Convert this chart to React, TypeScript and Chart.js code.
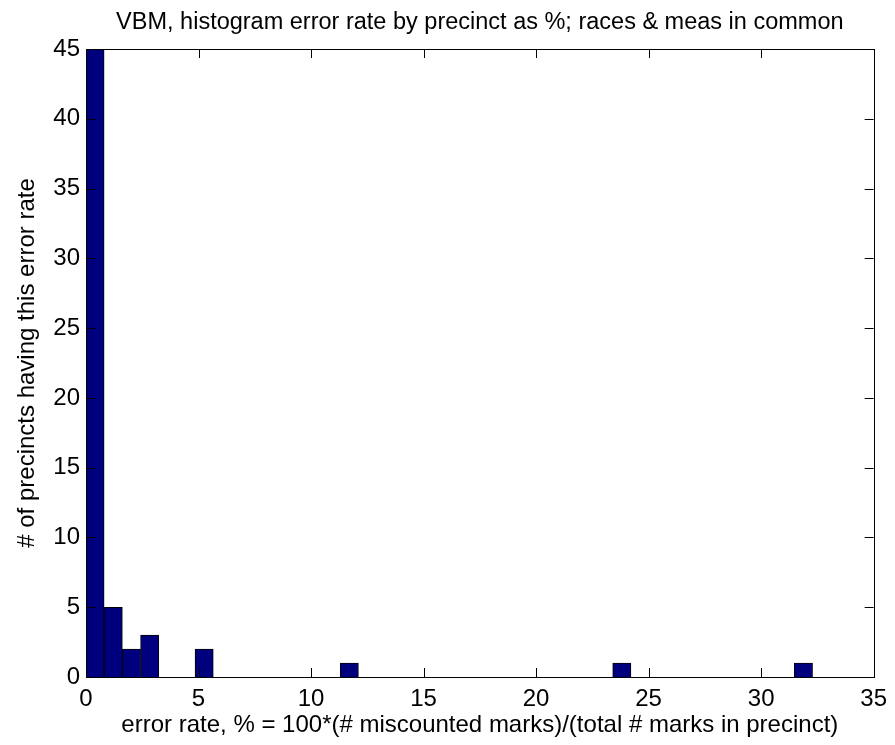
import React, { useEffect, useRef } from "react";
import { Chart, registerables } from "chart.js";

Chart.register(...registerables);

// Histogram bins (non-empty bins only): centre of each bin (% error rate) and count of precincts
const binCenters = [0.4, 1.21, 2.02, 2.83, 5.25, 11.7, 23.81, 31.88];
const counts = [45, 5, 2, 3, 2, 1, 1, 1];

const titleText = "VBM, histogram error rate by precinct as %; races & meas in common";
const xLabel = "error rate, % = 100*(# miscounted marks)/(total # marks in precinct)";
const yLabel = "# of precincts having this error rate";

const FONT = "'Liberation Sans', Arial, sans-serif";

const framePlugin = {
  id: "matlabFrame",
  afterDatasetsDraw(chart: any) {
    const { ctx, chartArea } = chart;
    const { left, right, top, bottom } = chartArea;
    const tl = 9;
    ctx.save();
    ctx.strokeStyle = "#000";
    ctx.lineWidth = 1;
    ctx.beginPath();
    const xs = chart.scales.x;
    xs.ticks.forEach((t: any) => {
      const px = Math.round(xs.getPixelForValue(t.value)) + 0.5;
      ctx.moveTo(px, bottom);
      ctx.lineTo(px, bottom - tl);
      ctx.moveTo(px, top);
      ctx.lineTo(px, top + tl);
    });
    const ys = chart.scales.y;
    ys.ticks.forEach((t: any) => {
      const py = Math.round(ys.getPixelForValue(t.value)) + 0.5;
      ctx.moveTo(left, py);
      ctx.lineTo(left + tl, py);
      ctx.moveTo(right, py);
      ctx.lineTo(right - tl, py);
    });
    ctx.stroke();
    ctx.strokeRect(Math.round(left) + 0.5, Math.round(top) + 0.5, Math.round(right - left), Math.round(bottom - top));
    ctx.restore();
  },
};

export default function App() {
  const ref = useRef<HTMLCanvasElement>(null);
  useEffect(() => {
    if (!ref.current) return;
    const chart = new Chart(ref.current, {
      type: "bar",
      data: {
        datasets: [
          {
            data: binCenters.map((x, i) => ({ x, y: counts[i] })),
            backgroundColor: "#00007f",
            borderColor: "#000000",
            borderWidth: 1,
            barPercentage: 1,
            categoryPercentage: 1,
          },
        ],
      },
      options: {
        responsive: false,
        animation: false,
        layout: { padding: { left: 0, right: 17, top: 0, bottom: 0 } },
        plugins: {
          legend: { display: false },
          tooltip: { enabled: false },
          title: {
            display: true,
            text: titleText,
            fullSize: false,
            color: "#000",
            font: { family: FONT, size: 23.5, weight: "normal", lineHeight: 1 },
            padding: { top: 11, bottom: 14.5 },
          },
        },
        scales: {
          x: {
            type: "linear",
            min: 0,
            max: 35,
            offset: false,
            grid: { display: false, drawTicks: false, offset: false },
            border: { display: false },
            ticks: {
              stepSize: 5,
              color: "#000",
              padding: 8,
              maxRotation: 0,
              font: { family: FONT, size: 24 },
            },
            title: {
              display: true,
              text: xLabel,
              color: "#000",
              font: { family: FONT, size: 24, lineHeight: 1 },
              padding: { top: 0, bottom: 8 },
            },
            afterFit: (scale: any) => {
              scale.height = 68;
            },
          },
          y: {
            type: "linear",
            min: 0,
            max: 45,
            grid: { display: false, drawTicks: false },
            border: { display: false },
            ticks: {
              stepSize: 5,
              color: "#000",
              padding: 6,
              font: { family: FONT, size: 24 },
            },
            title: {
              display: true,
              text: yLabel,
              color: "#000",
              font: { family: FONT, size: 24, lineHeight: 1 },
              padding: { top: 15, bottom: 0 },
            },
            afterFit: (scale: any) => {
              scale.width = 86;
            },
          },
        },
      },
      plugins: [framePlugin],
    } as any);
    return () => chart.destroy();
  }, []);
  return (
    <div style={{ position: "absolute", left: 0, top: 0, width: 895, height: 745, background: "#fff" }}>
      <canvas ref={ref} width={895} height={745} style={{ width: 895, height: 745, display: "block" }} />
    </div>
  );
}
